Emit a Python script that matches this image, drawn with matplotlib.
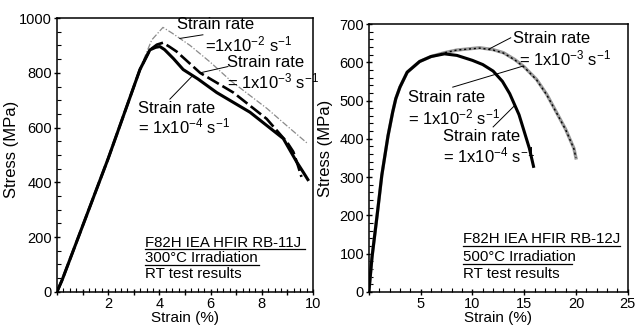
import numpy as np
import matplotlib
matplotlib.use("Agg")
import matplotlib.pyplot as plt
from matplotlib.ticker import MultipleLocator, FuncFormatter

plt.rcParams['font.family'] = ['Liberation Sans', 'DejaVu Sans']
plt.rcParams['mathtext.default'] = 'regular'

# RB-11J, 300C irradiation (strain %, stress MPa)
rb11_slow_strain = [0, 0.2, 2.0, 3.24, 3.63, 3.85, 4.02, 4.2, 4.55, 4.93, 5.5, 6.24, 7.54, 8.84, 9.36, 9.6, 9.8]
rb11_slow_stress = [0, 43, 487, 812, 884, 893, 896, 885, 852, 812, 778, 728, 656, 560, 475, 440, 410]
rb11_mid_strain = [0, 0.2, 2.0, 3.24, 3.63, 3.9, 4.14, 4.4, 4.67, 5.59, 6.89, 8.19, 9.0, 9.23, 9.4, 9.55]
rb11_mid_stress = [0, 43, 487, 812, 884, 903, 910, 895, 878, 800, 728, 632, 545, 512, 465, 420]
rb11_fast_strain = [0, 0.2, 2.0, 3.24, 3.7, 4.14, 4.5, 5.2, 6.0, 6.8, 8.2, 9.0, 9.8]
rb11_fast_stress = [0, 43, 487, 815, 920, 966, 945, 900, 838, 770, 670, 605, 541]

# RB-12J, 500C irradiation
rb12_slow_strain = [0, 0.3, 0.8, 1.25, 1.85, 2.3, 2.6, 3.0, 3.7, 4.9, 6.0, 7.3, 8.5, 10.0, 11.0, 12.0, 12.9, 13.6, 14.5, 14.9, 15.5, 15.9]
rb12_slow_stress = [0, 90, 201, 305, 408, 470, 505, 535, 574, 602, 615, 622, 618, 605, 594, 577, 550, 518, 463, 428, 375, 328]
rb12_fast_strain = [0, 0.3, 0.8, 1.25, 1.85, 2.3, 2.6, 3.0, 3.7, 4.9, 6.0, 7.3, 8.5, 10.7, 12.0, 13.0, 14.1, 15.0, 16.2, 17.2, 18.1, 19.0, 19.8, 20.0]
rb12_fast_stress = [0, 90, 201, 305, 408, 470, 505, 535, 574, 602, 615, 625, 632, 638, 633, 625, 607, 588, 555, 515, 470, 425, 375, 350]
rb12_mid_strain = rb12_fast_strain
rb12_mid_stress = [0, 90, 201, 305, 408, 470, 505, 535, 574, 602, 615, 625, 632, 637, 632, 624, 606, 587, 554, 514, 469, 424, 374, 350]

fig = plt.figure(figsize=(6.36, 3.29), dpi=100)
ax1 = fig.add_axes([0.0896, 0.113, 0.4025, 0.832])
ax2 = fig.add_axes([0.580, 0.113, 0.407, 0.814])

FS_TXT = 12
FS_XLAB = 11
FS_TICK = 10.5
FS_INFO = 10.8


def style_axes(ax, xmax, ymax, xmajor, xminor, ymajor, yminor, xlabels):
    ax.set_xlim(0, xmax)
    ax.set_ylim(0, ymax)
    ax.xaxis.set_major_locator(MultipleLocator(xmajor))
    ax.xaxis.set_minor_locator(MultipleLocator(xminor))
    ax.yaxis.set_major_locator(MultipleLocator(ymajor))
    ax.yaxis.set_minor_locator(MultipleLocator(yminor))
    ax.xaxis.set_major_formatter(FuncFormatter(
        lambda v, p: (f'{v:g}' if round(v, 3) in xlabels else '')))
    for s in ax.spines.values():
        s.set_linewidth(1.1)
    ax.tick_params(which='major', direction='inout', length=5, width=1.0,
                   labelsize=FS_TICK, pad=1)
    ax.tick_params(which='minor', direction='in', length=3, width=0.8)
    ax.tick_params(axis='x', which='major', pad=1)
    ax.set_xlabel('Strain (%)', fontsize=FS_XLAB, labelpad=0)
    ax.set_ylabel('Stress (MPa)', fontsize=FS_TXT)


style_axes(ax1, 10, 1000, 1, 0.25, 200, 50, [2, 4, 6, 8, 10])
style_axes(ax2, 25, 700, 5, 1, 100, 20, [5, 10, 15, 20, 25])
ax1.yaxis.set_label_coords(-0.148, 0.52)
ax2.yaxis.set_label_coords(-0.139, 0.535)

# left panel curves
ax1.plot(rb11_fast_strain, rb11_fast_stress, color='#8a8a8a', lw=0.9,
         dashes=(5, 1.5, 1, 1.5))
ax1.plot(rb11_mid_strain, rb11_mid_stress, color='black', lw=1.9, dashes=(5, 1.6))
ax1.plot(rb11_slow_strain, rb11_slow_stress, color='black', lw=2.2)

# right panel curves
ax2.plot(rb12_fast_strain, rb12_fast_stress, color='#9a9a9a', lw=2.4)
ax2.plot(rb12_mid_strain, rb12_mid_stress, color='black', lw=1.0, dashes=(1.5, 2))
ax2.plot(rb12_slow_strain, rb12_slow_stress, color='black', lw=2.2)


def label(ax, x, y1, y2, rate, start, cx, cs, cy, eq='= ', xoff=0):
    ax.text(x, y1, 'Strain rate', fontsize=FS_TXT, ha='left', va='center')
    ax.text(x + xoff, y2, eq + '1x10$^{' + rate + '}$ s$^{-1}$', fontsize=FS_TXT,
            ha='left', va='center')
    py = np.interp(cx, cs, cy)
    ax.plot([start[0], cx], [start[1], py], color='black', lw=0.7)


label(ax1, 4.69, 975, 903, '-2', (5.7, 939), 4.8,
      rb11_fast_strain, rb11_fast_stress, eq='=', xoff=1.09)
label(ax1, 6.64, 838, 769, '-3', (6.68, 823), 5.59,
      rb11_mid_strain, rb11_mid_stress)
label(ax1, 3.16, 668, 603, '-4', (4.41, 704), 5.3,
      rb11_slow_strain, rb11_slow_stress)

label(ax2, 13.9, 661, 610, '-3', (13.7, 664), 11.6,
      rb12_fast_strain, rb12_fast_stress, xoff=0.6)
label(ax2, 3.76, 509, 457, '-2', (8.1, 535), 14.9,
      rb12_fast_strain, rb12_fast_stress)
label(ax2, 7.14, 406, 356, '-4', (12.0, 431), 14.1,
      rb12_slow_strain, rb12_slow_stress)


def info(ax, x, ys, lines, ul_ends):
    for y, s in zip(ys, lines):
        ax.text(x, y, s, fontsize=FS_INFO, ha='left', va='center')
    # underline the first two lines
    ylim = ax.get_ylim()[1]
    for y, xe in zip(ys[:2], ul_ends):
        yy = y - ylim * 0.024
        ax.plot([x, xe], [yy, yy], color='black', lw=0.9)


info(ax1, 3.44, [180, 123, 65],
     ['F82H IEA HFIR RB-11J', '300°C Irradiation', 'RT test results'],
     [9.7, 7.9])
info(ax2, 9.07, [137, 90, 46],
     ['F82H IEA HFIR RB-12J', '500°C Irradiation', 'RT test results'],
     [24.3, 19.6])

fig.savefig('out.png', dpi=100)
